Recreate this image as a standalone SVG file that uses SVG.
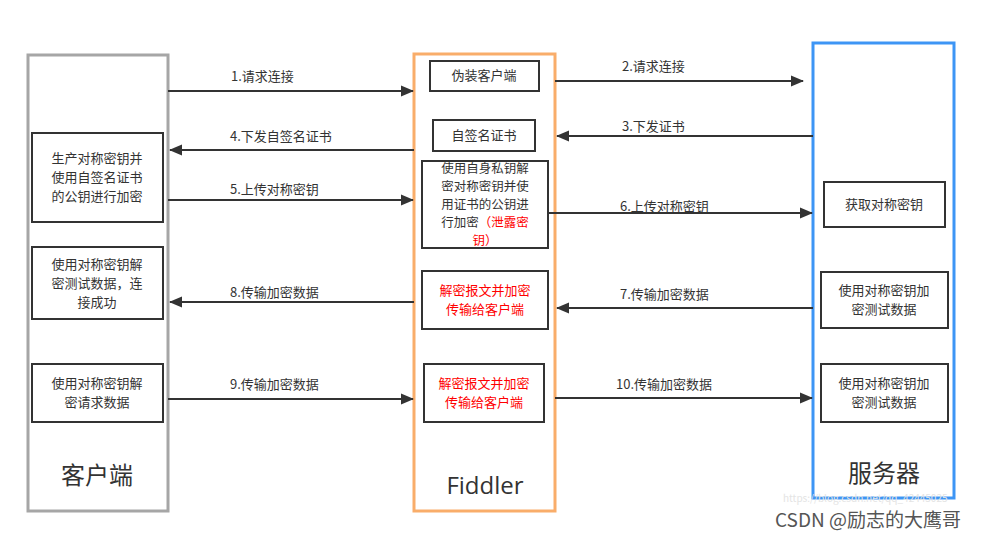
<svg xmlns="http://www.w3.org/2000/svg" width="981" height="533" viewBox="0 0 981 533">
<style>
text{font-family:"Noto Sans CJK SC","Liberation Sans",sans-serif;fill:#333}
.box{fill:#fff;stroke:#333;stroke-width:2}
.t{font-size:13px;text-anchor:middle}
.t5{font-size:12.5px;text-anchor:middle}
.red{fill:#ff0000}
.lbl{font-size:13px}
.big{font-size:24px;text-anchor:middle}
.ln{stroke:#333;stroke-width:2;fill:none}
</style>
<defs>
<marker id="ah" markerUnits="userSpaceOnUse" markerWidth="14" markerHeight="12" refX="12" refY="6" orient="auto">
<path d="M0,0.5 L13,6 L0,11.5 Z" fill="#333"/>
</marker>
</defs>
<rect width="981" height="533" fill="#fff"/>

<g id="client">
<rect x="28" y="55" width="140" height="456" fill="#fff" stroke="#a6a6a6" stroke-width="3"/>
<text class="big" x="97" y="484">客户端</text>
</g>
<g id="fiddler">
<rect x="414" y="54" width="141" height="457" fill="#fff" stroke="#f9ad6a" stroke-width="3"/>
<text class="big" x="485" y="494" style="font-family:'Open Sans','Noto Sans','Liberation Sans',sans-serif">Fiddler</text>
</g>
<g id="server">
<rect x="813" y="43" width="141" height="455" fill="#fff" stroke="#3d95f5" stroke-width="3"/>
<text class="big" x="884" y="482">服务器</text>
</g>

<g id="c1"><rect class="box" x="32" y="133" width="131" height="89"/>
<text class="t" x="97" y="163">生产对称密钥并</text><text class="t" x="97" y="182">使用自签名证书</text><text class="t" x="97" y="201">的公钥进行加密</text></g>
<g id="c2"><rect class="box" x="32" y="247" width="131" height="72"/>
<text class="t" x="97" y="268.5">使用对称密钥解</text><text class="t" x="97" y="287.5">密测试数据，连</text><text class="t" x="97" y="306.5">接成功</text></g>
<g id="c3"><rect class="box" x="32" y="364" width="131" height="58"/>
<text class="t" x="97" y="388">使用对称密钥解</text><text class="t" x="97" y="407">密请求数据</text></g>

<g id="f1"><rect class="box" x="430" y="61" width="109" height="30"/>
<text class="t" x="484" y="80">伪装客户端</text></g>
<g id="f2"><rect class="box" x="433" y="120" width="102" height="31"/>
<text class="t" x="484" y="140">自签名证书</text></g>
<g id="f3"><rect class="box" x="422" y="161" width="126" height="87"/>
<text class="t5" x="485" y="172.5">使用自身私钥解</text><text class="t5" x="485" y="190.7">密对称密钥并使</text><text class="t5" x="485" y="208.9">用证书的公钥进</text><text class="t5" x="485" y="227.1">行加密<tspan class="red">（泄露密</tspan></text><text class="t5 red" x="485" y="245.3">钥）</text></g>
<g id="f4"><rect class="box" x="422" y="271" width="126" height="58"/>
<text class="t red" x="485" y="295">解密报文并加密</text><text class="t red" x="485" y="314">传输给客户端</text></g>
<g id="f5"><rect class="box" x="424" y="364" width="120" height="58"/>
<text class="t red" x="484" y="388">解密报文并加密</text><text class="t red" x="484" y="407">传输给客户端</text></g>

<g id="s1"><rect class="box" x="824" y="182" width="121" height="45"/>
<text class="t" x="884" y="209">获取对称密钥</text></g>
<g id="s2"><rect class="box" x="821" y="272" width="127" height="56"/>
<text class="t" x="884" y="295">使用对称密钥加</text><text class="t" x="884" y="314">密测试数据</text></g>
<g id="s3"><rect class="box" x="821" y="364" width="127" height="58"/>
<text class="t" x="884" y="388">使用对称密钥加</text><text class="t" x="884" y="407">密测试数据</text></g>

<g id="connectors">
<line class="ln" x1="168" y1="91" x2="413" y2="91" marker-end="url(#ah)"/>
<text class="lbl" x="231" y="81">1.请求连接</text>
<line class="ln" x1="414" y1="150" x2="170" y2="150" marker-end="url(#ah)"/>
<text class="lbl" x="230" y="141">4.下发自签名证书</text>
<line class="ln" x1="168" y1="200" x2="413" y2="200" marker-end="url(#ah)"/>
<text class="lbl" x="230" y="194">5.上传对称密钥</text>
<line class="ln" x1="555" y1="81" x2="803" y2="81" marker-end="url(#ah)"/>
<text class="lbl" x="622" y="71">2.请求连接</text>
<line class="ln" x1="813" y1="136" x2="557" y2="136" marker-end="url(#ah)"/>
<text class="lbl" x="622" y="131">3.下发证书</text>
<line class="ln" x1="548" y1="213" x2="812" y2="213" marker-end="url(#ah)"/>
<text class="lbl" x="620" y="211">6.上传对称密钥</text>
<line class="ln" x1="414" y1="302" x2="170" y2="302" marker-end="url(#ah)"/>
<text class="lbl" x="230" y="297">8.传输加密数据</text>
<line class="ln" x1="168" y1="399" x2="413" y2="399" marker-end="url(#ah)"/>
<text class="lbl" x="230" y="389">9.传输加密数据</text>
<line class="ln" x1="813" y1="308" x2="557" y2="308" marker-end="url(#ah)"/>
<text class="lbl" x="620" y="299">7.传输加密数据</text>
<line class="ln" x1="555" y1="398" x2="812" y2="398" marker-end="url(#ah)"/>
<text class="lbl" x="616" y="389">10.传输加密数据</text>
</g>

<text x="783" y="501.5" style="font-size:10px;fill:#e4e4e4">https://blog.csdn.net/qq_42445025</text>
<text x="775" y="527" style="font-size:19px;fill:#555">CSDN @励志的大鹰哥</text>
</svg>
